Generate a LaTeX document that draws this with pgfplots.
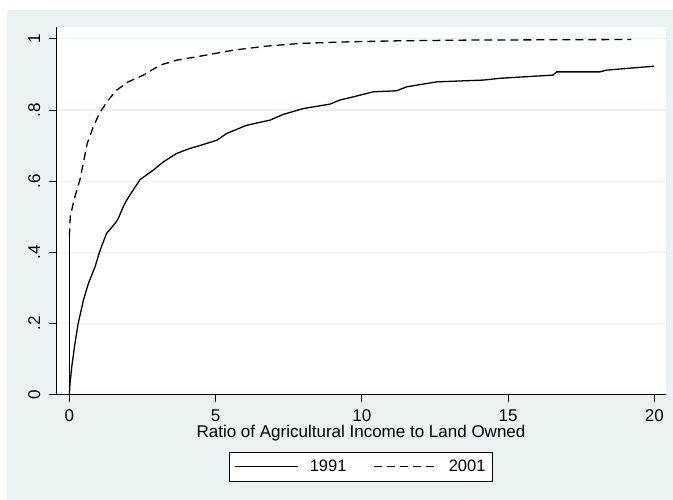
\documentclass[border=0pt]{standalone}
\usepackage{fontspec}
\setmainfont{Liberation Sans}
\usepackage{pgfplots}
\pgfplotsset{compat=1.18}
\definecolor{ltbg}{RGB}{234,242,243}
\begin{document}
\begin{tikzpicture}
\fill[white] (0,0) rectangle (673bp,500bp);
\fill[ltbg] (7bp,0) rectangle (673bp,490bp);
\begin{axis}[
  at={(56bp,105.3bp)}, anchor=south west,
  width=610bp, height=368bp, scale only axis,
  xmin=-0.458, xmax=20.40, ymin=0, ymax=1.034,
  axis background/.style={fill=white},
  axis x line*=bottom, axis y line*=left,
  axis line style={line width=0.9bp, black},
  tick align=outside, major tick length=7bp,
  tick style={line width=0.9bp, black},
  xtick={0,5,10,15,20}, xticklabels={0,5,10,15,20},
  ytick={0,0.2,0.4,0.6,0.8,1}, yticklabels={0,.2,.4,.6,.8,1},
  ymajorgrids, grid style={ltbg, line width=1.3bp},
  ticklabel style={font=\fontsize{17bp}{19bp}\selectfont},
  yticklabel style={xshift=-9bp, rotate=90, anchor=base, inner sep=0pt},
  xticklabel style={anchor=north, inner sep=0pt, yshift=-7.5bp},
  xlabel={Ratio of Agricultural Income to Land Owned},
  xlabel style={at={(axis description cs:0.5,-0.115)}, anchor=base, inner sep=0pt, font=\fontsize{17bp}{19bp}\selectfont},
  legend style={at={(0.5,-0.195)}, anchor=center, draw=black, line width=0.8bp, fill=white,
    font=\fontsize{16.5bp}{19bp}\selectfont, inner xsep=5bp, inner ysep=6bp,
    /tikz/every odd column/.append style={column sep=9bp},
    /tikz/every even column/.append style={column sep=25bp}},
  legend columns=2,
  legend image code/.code={\draw[#1] (0bp,0bp) -- (63bp,0bp);},
]
\addplot[black, line width=1.3bp] coordinates {
(0,0) (0.02,0.03) (0.08,0.078) (0.19,0.144) (0.30,0.200) (0.48,0.266) (0.65,0.3125) (0.875,0.359) (1.05,0.406) (1.27,0.453) (1.56,0.481) (1.67,0.495) (1.84,0.528) (1.96,0.547) (2.41,0.604) (2.87,0.631) (3.21,0.654) (3.67,0.678) (4.12,0.692) (4.46,0.700) (5.04,0.715) (5.38,0.734) (6.06,0.757) (6.86,0.7715) (7.31,0.7875) (8.0,0.804) (8.91,0.8165) (9.25,0.828) (9.71,0.837) (10.39,0.851) (11.19,0.854) (11.53,0.865) (12.56,0.879) (14.15,0.884) (14.72,0.889) (16.54,0.898) (16.66,0.907) (18.14,0.907) (18.37,0.912) (19.99,0.923)
};
\addlegendentry{1991}
\addplot[black, line width=1.3bp, dash pattern=on 8bp off 5bp] coordinates {
(0,0.445) (0.03,0.50) (0.157,0.547) (0.36,0.604) (0.61,0.706) (0.82,0.753) (1.02,0.790) (1.33,0.828) (1.62,0.856) (2.01,0.879) (2.53,0.898) (3.10,0.926) (3.67,0.940) (4.46,0.951) (5.60,0.968) (6.75,0.9795) (7.88,0.987) (9.59,0.9916) (11.3,0.9944) (13.58,0.9963) (15.85,0.997) (19.22,0.998)
};
\addlegendentry{2001}
\addplot[black, line width=1.3bp, forget plot] coordinates {(0,0) (0,0.445)};
\end{axis}
\end{tikzpicture}
\end{document}
